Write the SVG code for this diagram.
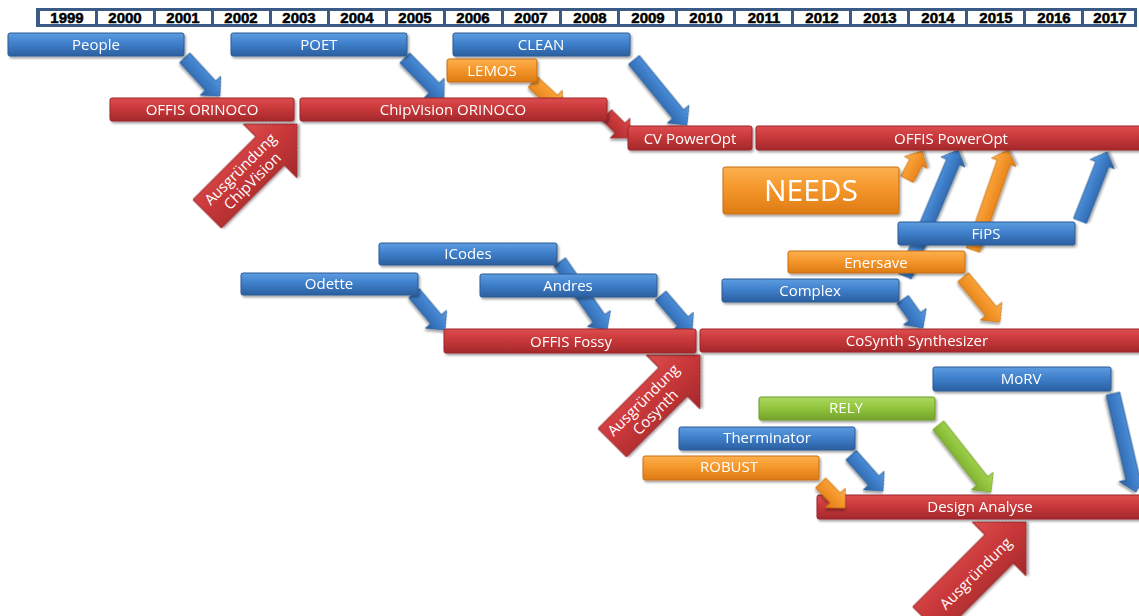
<svg xmlns="http://www.w3.org/2000/svg" width="1139" height="616" viewBox="0 0 1139 616">
  <defs>
    <linearGradient id="g-blue" x1="0" y1="0" x2="0" y2="1">
      <stop offset="0" stop-color="#5e9de0"/>
      <stop offset="0.45" stop-color="#3f80cc"/>
      <stop offset="1" stop-color="#2b5f9f"/>
    </linearGradient>
    <linearGradient id="g-red" x1="0" y1="0" x2="0" y2="1">
      <stop offset="0" stop-color="#dc4e4f"/>
      <stop offset="0.45" stop-color="#c9383a"/>
      <stop offset="1" stop-color="#a3292b"/>
    </linearGradient>
    <linearGradient id="g-orange" x1="0" y1="0" x2="0" y2="1">
      <stop offset="0" stop-color="#fbb04e"/>
      <stop offset="0.45" stop-color="#f5972c"/>
      <stop offset="1" stop-color="#dd7b14"/>
    </linearGradient>
    <linearGradient id="g-green" x1="0" y1="0" x2="0" y2="1">
      <stop offset="0" stop-color="#acd862"/>
      <stop offset="0.45" stop-color="#93c63f"/>
      <stop offset="1" stop-color="#74a32a"/>
    </linearGradient>
    <filter id="shadow" x="-10%" y="-30%" width="120%" height="170%">
      <feDropShadow dx="1.5" dy="2" stdDeviation="1.2" flood-color="#000" flood-opacity="0.35"/>
    </filter>
  </defs>
  <style>
    .box { filter: url(#shadow); }
    .box rect { rx: 2; ry: 2; stroke-width: 1; }
    .blue rect { fill: url(#g-blue); stroke: #2a5a94; }
    .red rect { fill: url(#g-red); stroke: #9b2628; }
    .orange rect { fill: url(#g-orange); stroke: #c96e10; }
    .green rect { fill: url(#g-green); stroke: #6c9a26; }
    .box text, .big text { font-family: "Open Sans", "Liberation Sans", sans-serif; font-size: 15px; fill: #ffffff; text-anchor: middle; }
    .big path { fill: url(#g-red); stroke: #9b2628; stroke-width: 1; filter: url(#shadow); }
    .big text { font-size: 15px; }
    .conn path { filter: url(#shadow); stroke-width: 0.8; }
    .cb { fill: url(#g-blue); stroke: #2a5a94; }
    .co { fill: url(#g-orange); stroke: #c96e10; }
    .cg { fill: url(#g-green); stroke: #6c9a26; }
    .cr { fill: url(#g-red); stroke: #9b2628; }
    .year { font-family: "Liberation Sans", Arial, sans-serif; font-weight: bold; font-size: 15px; fill: #000; stroke: #000; stroke-width: 0.5; text-anchor: middle; }
  </style>

  <!-- year scale -->
  <g id="timeline">
    <rect x="36" y="8" width="1101" height="19" fill="#3c5a86"/>
    <g fill="#ffffff">
      <rect x="40" y="11" width="55" height="13"/>
      <rect x="98" y="11" width="55" height="13"/>
      <rect x="156" y="11" width="55" height="13"/>
      <rect x="214" y="11" width="55" height="13"/>
      <rect x="272" y="11" width="55" height="13"/>
      <rect x="330" y="11" width="55" height="13"/>
      <rect x="388" y="11" width="55" height="13"/>
      <rect x="446" y="11" width="55" height="13"/>
      <rect x="504" y="11" width="55" height="13"/>
      <rect x="562" y="11" width="55" height="13"/>
      <rect x="620" y="11" width="55" height="13"/>
      <rect x="678" y="11" width="55" height="13"/>
      <rect x="736" y="11" width="55" height="13"/>
      <rect x="794" y="11" width="55" height="13"/>
      <rect x="852" y="11" width="55" height="13"/>
      <rect x="910" y="11" width="55" height="13"/>
      <rect x="968" y="11" width="55" height="13"/>
      <rect x="1026" y="11" width="55" height="13"/>
      <rect x="1084" y="11" width="50" height="13"/>
    </g>
    <text class="year" x="67" y="23">1999</text>
    <text class="year" x="125" y="23">2000</text>
    <text class="year" x="183" y="23">2001</text>
    <text class="year" x="241" y="23">2002</text>
    <text class="year" x="299" y="23">2003</text>
    <text class="year" x="357" y="23">2004</text>
    <text class="year" x="415" y="23">2005</text>
    <text class="year" x="473" y="23">2006</text>
    <text class="year" x="531" y="23">2007</text>
    <text class="year" x="590" y="23">2008</text>
    <text class="year" x="648" y="23">2009</text>
    <text class="year" x="706" y="23">2010</text>
    <text class="year" x="764" y="23">2011</text>
    <text class="year" x="822" y="23">2012</text>
    <text class="year" x="880" y="23">2013</text>
    <text class="year" x="938" y="23">2014</text>
    <text class="year" x="996" y="23">2015</text>
    <text class="year" x="1054" y="23">2016</text>
    <text class="year" x="1110" y="23">2017</text>
  </g>

  <!-- transfer arrows: tip at origin, pointing along +x -->
  <g id="connectors" class="conn">
    <path class="cb" transform="translate(220,96) rotate(47.4)" d="M-52,-7 H-14 V-14 L0,0 L-14,14 V7 H-52 Z"/>
    <path class="cb" transform="translate(444,98) rotate(45.7)" d="M-56,-7 H-14 V-14 L0,0 L-14,14 V7 H-56 Z"/>
    <path class="co" transform="translate(563,110) rotate(43)" d="M-41,-7 H-14 V-14 L0,0 L-14,14 V7 H-41 Z"/>
    <path class="cr" transform="translate(630,138) rotate(45)" d="M-33,-7 H-14 V-14 L0,0 L-14,14 V7 H-33 Z"/>
    <path class="cb" transform="translate(687,125) rotate(50.8)" d="M-84,-7 H-14 V-14 L0,0 L-14,14 V7 H-84 Z"/>
    <path class="co" transform="translate(922,151) rotate(-62)" d="M-32,-7 H-13 V-13 L0,0 L-13,13 V7 H-32 Z"/>
    <path class="cb" transform="translate(958,150) rotate(-67.2)" d="M-137,-7 H-13 V-13 L0,0 L-13,13 V7 H-137 Z"/>
    <path class="co" transform="translate(1008,150) rotate(-70.7)" d="M-106,-7 H-13 V-13 L0,0 L-13,13 V7 H-106 Z"/>
    <path class="cb" transform="translate(1107,152) rotate(-68.6)" d="M-74,-7 H-13 V-13 L0,0 L-13,13 V7 H-74 Z"/>
    <path class="cb" transform="translate(923,328) rotate(54.5)" d="M-35,-7 H-14 V-14 L0,0 L-14,14 V7 H-35 Z"/>
    <path class="co" transform="translate(1000,322) rotate(50.6)" d="M-58,-7 H-14 V-14 L0,0 L-14,14 V7 H-58 Z"/>
    <path class="cb" transform="translate(445,330) rotate(50)" d="M-48,-7 H-14 V-14 L0,0 L-14,14 V7 H-48 Z"/>
    <path class="cb" transform="translate(607,330) rotate(55.3)" d="M-83,-7 H-14 V-14 L0,0 L-14,14 V7 H-83 Z"/>
    <path class="cb" transform="translate(692,332) rotate(49.3)" d="M-48,-7 H-14 V-14 L0,0 L-14,14 V7 H-48 Z"/>
    <path class="cb" transform="translate(883,491) rotate(48.4)" d="M-48,-7 H-14 V-14 L0,0 L-14,14 V7 H-48 Z"/>
    <path class="cg" transform="translate(991,492) rotate(51.7)" d="M-85,-7 H-14 V-14 L0,0 L-14,14 V7 H-85 Z"/>
    <path class="cb" transform="translate(1136,492) rotate(76.8)" d="M-101,-7 H-14 V-14 L0,0 L-14,14 V7 H-101 Z"/>
  </g>

  <!-- spin-off arrows -->
  <g id="spinoff-chipvision" class="big" transform="translate(297,124) rotate(-45)">
    <path d="M-127,-20 H-38 V-38 L0,0 L-38,38 V20 H-127 Z"/>
    <text x="-72" y="-3">Ausgründung</text>
    <text x="-72" y="14">ChipVision</text>
  </g>
  <g id="spinoff-cosynth" class="big" transform="translate(700,355) rotate(-45)">
    <path d="M-124,-20 H-38 V-38 L0,0 L-38,38 V20 H-124 Z"/>
    <text x="-72" y="-3">Ausgründung</text>
    <text x="-72" y="14">Cosynth</text>
  </g>
  <g id="spinoff-design" class="big" transform="translate(1026,522) rotate(-45)">
    <path d="M-140,-20 H-38 V-38 L0,0 L-38,38 V20 H-140 Z"/>
    <text x="-72" y="6">Ausgründung</text>
  </g>

  <!-- projects and products -->
  <g id="people" class="box blue"><rect x="8" y="33" width="176" height="23"/><text x="96" y="50">People</text></g>
  <g id="poet" class="box blue"><rect x="231" y="33" width="176" height="23"/><text x="319" y="50">POET</text></g>
  <g id="clean" class="box blue"><rect x="453" y="33" width="177" height="23"/><text x="541" y="50">CLEAN</text></g>
  <g id="lemos" class="box orange"><rect x="447" y="59" width="90" height="23"/><text x="492" y="76">LEMOS</text></g>
  <g id="offis-orinoco" class="box red"><rect x="110" y="98" width="184" height="23"/><text x="202" y="115">OFFIS ORINOCO</text></g>
  <g id="chipvision-orinoco" class="box red"><rect x="300" y="98" width="307" height="23"/><text x="453" y="115">ChipVision ORINOCO</text></g>
  <g id="cv-poweropt" class="box red"><rect x="628" y="126" width="124" height="24"/><text x="690" y="144">CV PowerOpt</text></g>
  <g id="offis-poweropt" class="box red"><rect x="756" y="126" width="390" height="24"/><text x="951" y="144">OFFIS PowerOpt</text></g>
  <g id="needs" class="box orange"><rect x="723" y="167" width="176" height="47"/><text x="811" y="201" style="font-size:30px">NEEDS</text></g>
  <g id="fips" class="box blue"><rect x="898" y="222" width="177" height="23"/><text x="986" y="239">FiPS</text></g>
  <g id="enersave" class="box orange"><rect x="788" y="251" width="177" height="22"/><text x="876" y="268">Enersave</text></g>
  <g id="complex" class="box blue"><rect x="722" y="279" width="177" height="23"/><text x="810" y="296">Complex</text></g>
  <g id="cosynth-synthesizer" class="box red"><rect x="700" y="329" width="445" height="23"/><text x="917" y="346">CoSynth Synthesizer</text></g>
  <g id="icodes" class="box blue"><rect x="379" y="243" width="178" height="22"/><text x="468" y="259">ICodes</text></g>
  <g id="odette" class="box blue"><rect x="241" y="273" width="177" height="22"/><text x="329" y="289">Odette</text></g>
  <g id="andres" class="box blue"><rect x="480" y="274" width="177" height="23"/><text x="568" y="291">Andres</text></g>
  <g id="offis-fossy" class="box red"><rect x="444" y="329" width="252" height="24"/><text x="571" y="347">OFFIS Fossy</text></g>
  <g id="morv" class="box blue"><rect x="933" y="367" width="178" height="24"/><text x="1021" y="384">MoRV</text></g>
  <g id="rely" class="box green"><rect x="759" y="397" width="176" height="23"/><text x="846" y="413">RELY</text></g>
  <g id="therminator" class="box blue"><rect x="679" y="427" width="176" height="23"/><text x="767" y="443">Therminator</text></g>
  <g id="robust" class="box orange"><rect x="643" y="456" width="176" height="24"/><text x="729" y="472">ROBUST</text></g>
  <g id="design-analyse" class="box red"><rect x="817" y="495" width="330" height="24"/><text x="980" y="512">Design Analyse</text></g>

  <!-- arrow drawn over the Design Analyse bar -->
  <g id="connectors-front" class="conn">
    <path class="co" transform="translate(845,508) rotate(46)" d="M-35,-7 H-14 V-14 L0,0 L-14,14 V7 H-35 Z"/>
  </g>
</svg>
